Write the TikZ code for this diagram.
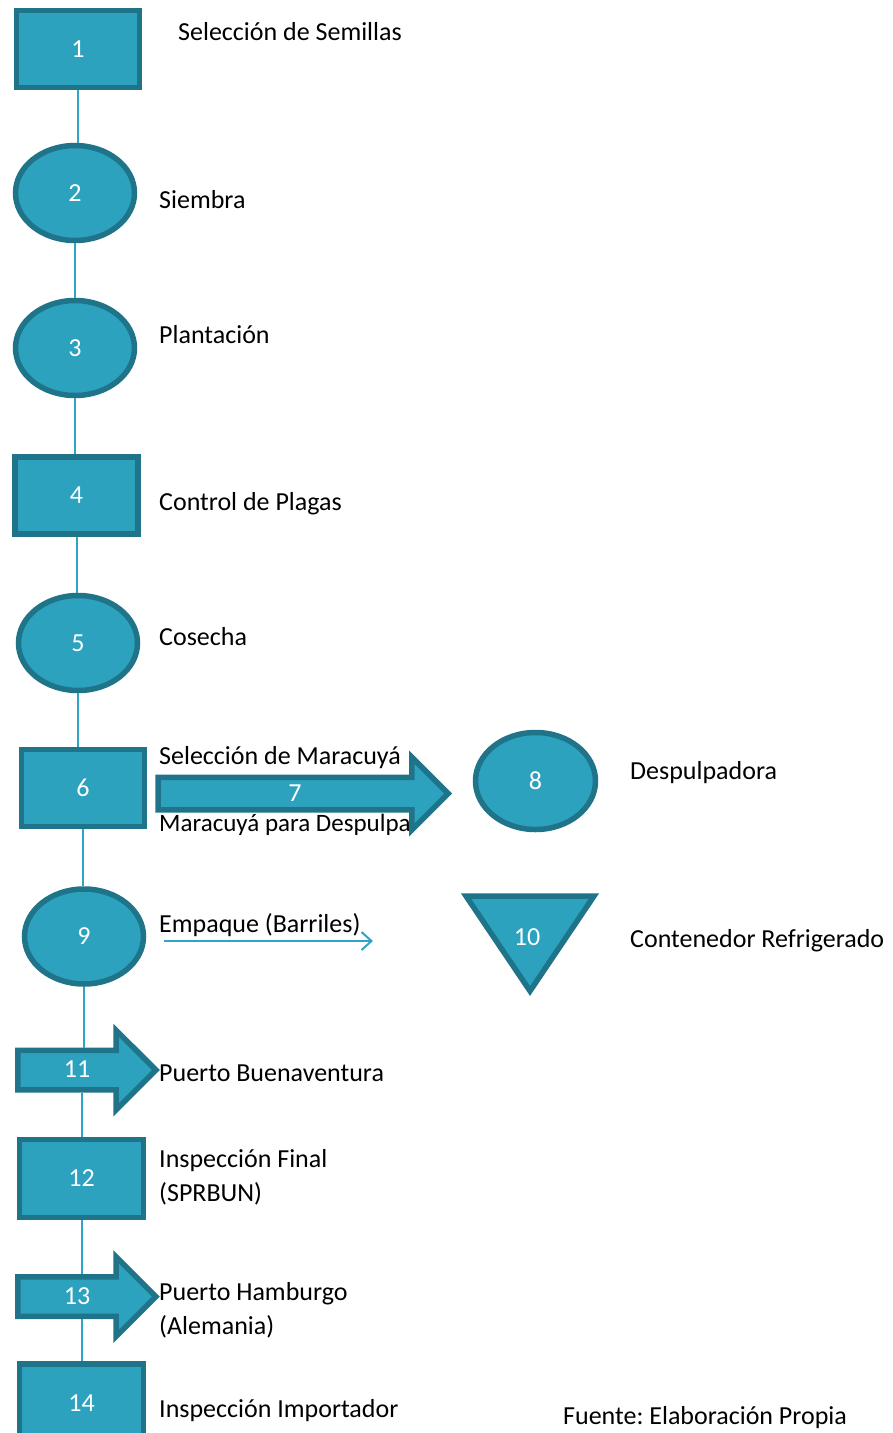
\documentclass[tikz,border=0pt]{standalone}
\usepackage{fontspec}
\setmainfont{Carlito}
\frenchspacing
\usetikzlibrary{shapes.geometric, shapes.arrows, arrows.meta, positioning}
\definecolor{my_teal}{RGB}{44, 162, 191}
\definecolor{my_darkteal}{RGB}{31, 116, 137}
\definecolor{my_line}{RGB}{48, 164, 197}
\tikzset {
  box/.style = {draw=my_darkteal, line width=5.5pt, fill=my_teal, rectangle, text=white, inner sep=0pt, minimum width=123pt, minimum height=77pt, font=\fontsize{26}{30}\selectfont},
  round/.style = {draw=my_darkteal, line width=5.5pt, fill=my_teal, ellipse, text=white, inner sep=0pt, minimum width=119pt, minimum height=95pt, font=\fontsize{26}{30}\selectfont},
  bigarrow/.style = {draw=my_darkteal, line width=5.5pt, fill=my_teal, single arrow, text=white, single arrow head extend=20pt, single arrow head indent=0pt, text height=16pt, text depth=1pt, inner xsep=0pt, inner ysep=8.5pt, minimum height=#1, font=\fontsize{26}{30}\selectfont},
  tri/.style = {draw=my_darkteal, line width=5.5pt, fill=my_teal, line join=miter},
  desc/.style = {anchor=base west, inner sep=0pt, align=left, font=\fontsize{26}{34}\selectfont},
  line/.style = {color=my_line, line width=2pt},
  thin/.style = {-{Straight Barb[length=10pt, width=18pt]}, color=my_line, line width=2pt}
}

\begin{document}
\begin{tikzpicture}[x=1pt, y=-1pt]
    \useasboundingbox (0,0) rectangle (892,1433);

    \node[box] (semillas) at (78,49) {1};
    \node[round] (siembra) at (75,193) {2};
    \node[round] (plantacion) at (75,348) {3};
    \node[box] (plagas) at (76.5,495.5) {4};
    \node[round] (cosecha) at (78,643) {5};
    \node[box] (seleccion) at (83,788) {6};
    \node[round, minimum width=120pt, minimum height=97pt] (despulpadora) at (535.5,781) {8};
    \node[round] (empaque) at (84,936.5) {9};
    \node[box, minimum width=124pt, minimum height=78pt] (inspeccion) at (81.5,1178.5) {12};
    \node[box, minimum width=124pt, minimum height=78pt] (importador) at (81.5,1403) {14};

    % containers are a triangle drawn by hand
    \draw[tri] (466,896) -- (594,896) -- (530,991) -- cycle;
    \node[text=white, font=\fontsize{26}{30}\selectfont] (contenedor) at (527,937) {10};

    \node[desc] (t_semillas) at (178,40) {Selección de Semillas};
    \node[desc] (t_siembra) at (159,208) {Siembra};
    \node[desc] (t_plantacion) at (159,343) {Plantación};
    \node[desc] (t_plagas) at (159,510) {Control de Plagas};
    \node[desc] (t_cosecha) at (159,645) {Cosecha};
    \node[desc] (t_seleccion) at (159,764) {Selección de Maracuyá};
    \node[desc, font=\fontsize{25}{34}\selectfont] (t_despulpar) at (159,831) {Maracuyá para Despulpar};
    \node[desc] (t_despulpadora) at (630,779) {Despulpadora};
    \node[desc] (t_empaque) at (159,932) {Empaque (Barriles)};
    \node[desc] (t_contenedor) at (630,947) {Contenedor Refrigerado};
    \node[desc] (t_buenaventura) at (159,1081) {Puerto Buenaventura};
    \node[desc] (t_inspeccion) at (159,1201) {Inspección Final\\(SPRBUN)};
    \node[desc] (t_hamburgo) at (159,1334) {Puerto Hamburgo\\(Alemania)};
    \node[desc] (t_importador) at (159,1417) {Inspección Importador};
    \node[desc] (t_fuente) at (563,1424) {Fuente: Elaboración Propia};
    \node[desc, text=white] (t_ghost) at (738,1072) {11};

    \node[bigarrow=290pt, inner ysep=5pt] (despulpa) at (295,793.5) {7};
    \node[bigarrow=138pt] (buenaventura) at (77,1070) {11};
    \node[bigarrow=138pt] (hamburgo) at (77,1296.5) {13};

    \draw[line] (semillas.south) -- (semillas.south |- siembra.north);
    \draw[line] (siembra.south) -- (siembra.south |- plantacion.north);
    \draw[line] (plantacion.south) -- (plantacion.south |- plagas.north);
    \draw[line] (plagas.south) -- (plagas.south |- cosecha.north);
    \draw[line] (cosecha.south) -- (cosecha.south |- seleccion.north);
    \draw[line] (seleccion.south) -- (seleccion.south |- empaque.north);
    \draw[line] (empaque.south) -- (empaque.south |- buenaventura.north);
    \draw[line] (buenaventura.south -| inspeccion.north) -- (inspeccion.north);
    \draw[line] (inspeccion.south) -- (inspeccion.south |- hamburgo.north);
    \draw[line] (hamburgo.south -| importador.north) -- (importador.north);

    \coordinate (e_start) at (164,941);
    \coordinate (e_end) at (373,941);
    \draw[thin] (e_start) -- (e_end);

  \end{tikzpicture}
\end{document}
